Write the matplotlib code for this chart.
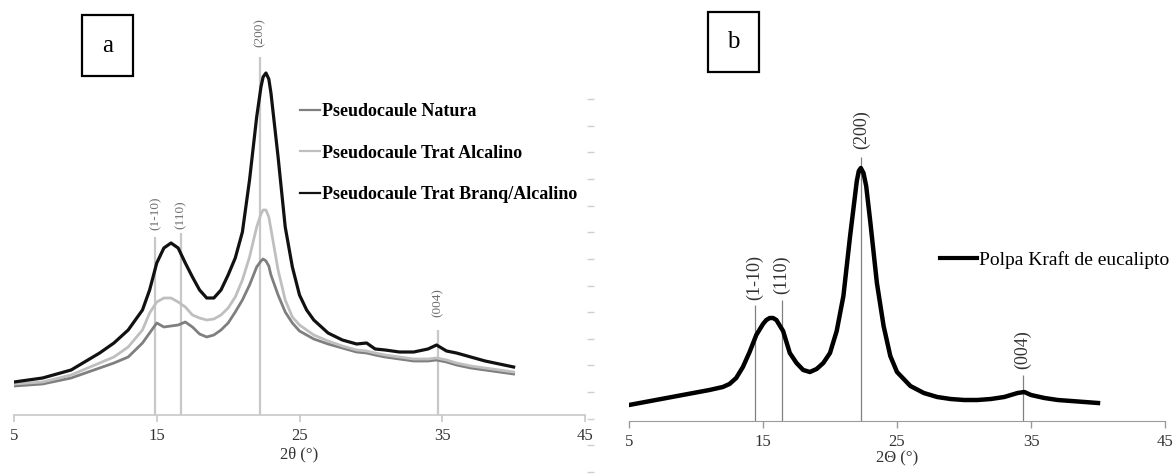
import numpy as np
import matplotlib
matplotlib.use('Agg')
import matplotlib.pyplot as plt
from matplotlib.lines import Line2D
from matplotlib.patches import Rectangle

plt.rcParams['font.family'] = ['Liberation Serif', 'DejaVu Serif']

# ---- panel a: pseudocaule samples (intensity, a.u.) ----
theta_a = [5, 7, 9, 11, 12, 13, 14, 14.5, 15, 15.5, 16, 16.5, 17, 17.5, 18, 18.5,
           19, 19.5, 20, 20.5, 21, 21.5, 22, 22.3, 22.45, 22.65, 22.85, 23, 23.5, 24,
           24.5, 25, 25.5, 26, 27, 28, 29, 29.7, 30.3, 31, 32, 33, 34, 34.6, 35.3,
           36, 37, 38, 39, 40]
natura = [29, 31, 37, 47, 52, 58, 72, 82, 92, 88, 89, 90, 93, 88, 81, 78,
          80, 85, 92, 103, 115, 130, 148, 154, 156, 154, 149, 140, 120, 103,
          92, 84, 80, 76, 71, 67, 63, 62, 60, 58, 56, 54, 54, 55, 53,
          50, 47, 45, 43, 41]
alcalino = [31, 33, 40, 52, 58, 68, 85, 102, 113, 117, 117, 113, 108, 100, 97, 95,
            96, 100, 107, 118, 135, 158, 188, 201, 205, 205, 198, 186, 145, 115,
            98, 90, 85, 80, 74, 69, 65, 64, 62, 60, 58, 56, 56, 57, 55,
            52, 49, 47, 45, 43]
branq = [33, 37, 45, 62, 72, 85, 105, 125, 152, 167, 172, 167, 152, 138, 125, 117,
         117, 125, 140, 157, 183, 235, 298, 328, 338, 342, 336, 322, 258, 188,
         148, 120, 105, 95, 82, 75, 71, 72, 66, 65, 63, 63, 66, 70, 64,
         62, 58, 54, 51, 48]
labels_a = ['Pseudocaule Natura', 'Pseudocaule Trat Alcalino',
            'Pseudocaule Trat Branq/Alcalino']

hkl = ['(1-10)', '(110)', '(200)', '(004)']
peaks_a = [14.9, 16.7, 22.2, 34.7]
peak_tops_a = [178, 182, 358, 85]
peak_lbl_a = [202, 200, 382, 112]

# ---- panel b: kraft pulp ----
theta_b = [5, 7, 9, 11, 12, 12.5, 13, 13.5, 14, 14.5, 15, 15.25, 15.5, 15.75, 16,
           16.5, 17, 17.5, 18, 18.5, 19, 19.5, 20, 20.5, 21, 21.5, 22, 22.15, 22.3,
           22.5, 22.7, 23, 23.5, 24, 24.5, 25, 26, 27, 28, 29, 30, 31, 32, 33, 34,
           34.5, 35, 36, 37, 38, 39, 40]
kraft = [16, 21, 26, 31, 34, 37, 43, 54, 69, 86, 97, 101, 103, 103, 101,
         90, 68, 58, 51, 49, 52, 58, 68, 90, 125, 185, 240, 250, 253,
         248, 235, 200, 138, 95, 65, 49, 35, 28, 24, 22, 21, 21, 22, 24, 28,
         29, 26, 23, 21, 20, 19, 18]
peaks_b = [14.4, 16.4, 22.35, 34.4]
peak_tops_b = [116, 121, 264, 46]
peak_lbl_b = [144, 146, 291, 71]

W, H = 1176, 475
fig = plt.figure(figsize=(W / 100, H / 100), dpi=100)

# ============================================================
# Panel a
# ============================================================
ax = fig.add_axes([14 / W, 60 / H, 571 / W, 415 / H])
ax.set_xlim(5, 45)
ax.set_ylim(0, 415)
ax.vlines(peaks_a, 0, peak_tops_a, color='#c8c8c8', lw=1.6, zorder=1)
for x, y, t in zip(peaks_a, peak_lbl_a, hkl):
    ax.text(x, y, t, rotation=90, ha='center', va='center', fontsize=9.5, color='#6e6e6e')
ax.plot(theta_a, natura, color='#7f7f7f', lw=2.0, zorder=2)
ax.plot(theta_a, alcalino, color='#bfbfbf', lw=2.0, zorder=2)
ax.plot(theta_a, branq, color='#111111', lw=2.3, zorder=3)
for s in ['left', 'top', 'right']:
    ax.spines[s].set_visible(False)
ax.spines['bottom'].set_color('#c8c8c8')
ax.spines['bottom'].set_linewidth(1.2)
ax.set_yticks([])
ax.set_xticks([5, 15, 25, 35, 45])
ax.tick_params(axis='x', direction='out', length=5, width=1.2, color='#c8c8c8',
               labelsize=12, labelcolor='#333333', pad=4)
ax.set_xlabel('2θ (°)', fontsize=12, color='#333333', labelpad=2)
handles_a = [Line2D([], [], color=c, lw=1.6) for c in ['#7f7f7f', '#bfbfbf', '#111111']]
ax.legend(handles_a, labels_a, loc='upper left', bbox_to_anchor=(300 / W, 1 - 103 / H),
          bbox_transform=fig.transFigure, frameon=False, borderpad=0, borderaxespad=0,
          handlelength=1.1, handletextpad=0.1, labelspacing=1.36,
          prop={'size': 13, 'weight': 'bold'})

# ============================================================
# Panel b
# ============================================================
bx = fig.add_axes([629 / W, 0, 536 / W, 1])
bx.set_xlim(5, 45)
bx.set_ylim(-54, 421)
bx.vlines(peaks_b, 0, peak_tops_b, color='#808080', lw=0.9, zorder=1)
for x, y, t in zip(peaks_b, peak_lbl_b, hkl):
    bx.text(x, y, t, rotation=90, ha='center', va='center', fontsize=13, color='#333333')
bx.plot(theta_b, kraft, color='black', lw=3.2, zorder=2)
bx.spines['top'].set_visible(False)
bx.spines['right'].set_visible(False)
bx.spines['bottom'].set_position(('data', 0))
bx.spines['bottom'].set_color('#9a9a9a')
bx.spines['left'].set_position(('outward', 25))
bx.spines['left'].set_color('none')
bx.set_yticks(np.arange(322, -60, -26.65))
bx.set_yticklabels([])
bx.tick_params(axis='y', direction='out', length=5, width=1.0, color='#d0d0d0')
bx.set_xticks([5, 15, 25, 35, 45])
bx.tick_params(axis='x', direction='out', length=5, width=1.0, color='#9a9a9a',
               labelsize=12, labelcolor='#333333', pad=4)
bx.set_xlabel('2Θ (°)', fontsize=12, color='#333333', labelpad=1)
bx.legend([Line2D([], [], color='black', lw=3)], ['Polpa Kraft de eucalipto'],
          loc='upper left', bbox_to_anchor=(940 / W, 1 - 251 / H),
          bbox_transform=fig.transFigure, frameon=False, borderpad=0, borderaxespad=0,
          handlelength=1.9, handletextpad=0.1, prop={'size': 14})

# panel letters
for (x0, y0, x1, y1), letter in [((82, 15, 133, 76), 'a'), ((708, 12, 759, 72), 'b')]:
    fig.patches.append(Rectangle((x0 / W, 1 - y1 / H), (x1 - x0) / W, (y1 - y0) / H,
                                 transform=fig.transFigure, fill=False, lw=1.6,
                                 edgecolor='black'))
    fig.text((x0 + x1) / 2 / W, 1 - (y0 + y1) / 2 / H, letter, ha='center', va='center',
             fontsize=18)

fig.savefig('out.png', dpi=100)
